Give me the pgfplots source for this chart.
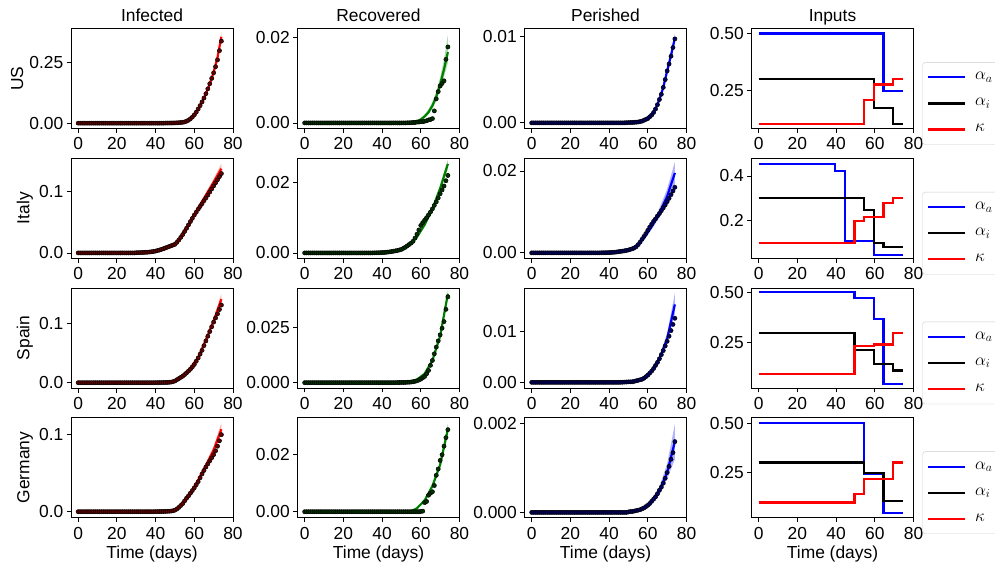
\documentclass[border=0pt]{standalone}
\usepackage{pgfplots}
\pgfplotsset{compat=1.18}
\usepackage{pgfplotstable}
\usepackage{fontspec}
\setmainfont{Liberation Sans}
\definecolor{mred}{rgb}{1,0,0}
\definecolor{mgreen}{rgb}{0,0.5,0}
\definecolor{mblue}{rgb}{0,0,1}
\newcommand{\fs}{\fontsize{17.4}{20}\selectfont}

% ---------------- observed data (fraction of population) ----------------
\pgfplotstableread[row sep=\\]{
t I R P\\
0 0 0 0\\ 1 0 0 0\\ 2 0 0 0\\ 3 0 0 0\\ 4 0 0 0\\ 5 0 0 0\\ 6 0 0 0\\ 7 0 0 0\\ 8 0 0 0\\ 9 0 0 0\\
10 0 0 0\\ 11 0 0 0\\ 12 0 0 0\\ 13 0 0 0\\ 14 0 0 0\\ 15 0 0 0\\ 16 0 0 0\\ 17 0 0 0\\ 18 0 0 0\\ 19 0 0 0\\
20 0 0 0\\ 21 0 0 0\\ 22 0 0 0\\ 23 0 0 0\\ 24 0 0 0\\ 25 0 0 0\\ 26 0 0 0\\ 27 0 0 0\\ 28 0 0 0\\ 29 0 0 0\\
30 0 0 0\\ 31 0 0 0\\ 32 0 0 0\\ 33 0 0 0\\ 34 0 0 0\\ 35 0 0 0\\ 36 0 0 0\\ 37 0 0 0\\ 38 0 0 0\\ 39 0 0 0\\
40 0 0 0\\ 41 0 0 0\\ 42 0 0 0\\ 43 0 0 0\\ 44 0 0 0\\
45 0.0003 0 0\\ 46 0.0004 0 0\\ 47 0.0005 0 0\\ 48 0.0006 0 0.00001\\ 49 0.0008 0 0.00002\\
50 0.0010 0 0.00003\\ 51 0.0013 0 0.00004\\ 52 0.0018 0 0.00005\\ 53 0.0025 0.00002 0.00006\\ 54 0.0035 0.00003 0.00008\\
55 0.0050 0.00005 0.0001\\ 56 0.0080 0.0001 0.00015\\ 57 0.0120 0.0001 0.0002\\ 58 0.0180 0.0002 0.0003\\ 59 0.0250 0.0002 0.0004\\
60 0.0340 0.0003 0.0005\\ 61 0.0450 0.0003 0.0007\\ 62 0.0580 0.0004 0.0009\\ 63 0.0720 0.0005 0.0012\\ 64 0.0870 0.0007 0.0016\\
65 0.1030 0.0008 0.0021\\ 66 0.1210 0.0010 0.0027\\ 67 0.1410 0.0028 0.0033\\ 68 0.1620 0.0056 0.0041\\ 69 0.1840 0.0073 0.0050\\
70 0.2070 0.0086 0.0060\\ 71 0.2320 0.0092 0.0068\\ 72 0.2600 0.0098 0.0077\\ 73 0.2980 0.0148 0.0087\\ 74 0.3370 0.0177 0.0097\\
}\USd

\pgfplotstableread[row sep=\\]{
t I R P\\
0 0 0 0\\ 1 0 0 0\\ 2 0 0 0\\ 3 0 0 0\\ 4 0 0 0\\ 5 0 0 0\\ 6 0 0 0\\ 7 0 0 0\\ 8 0 0 0\\ 9 0 0 0\\
10 0 0 0\\ 11 0 0 0\\ 12 0 0 0\\ 13 0 0 0\\ 14 0 0 0\\ 15 0 0 0\\ 16 0 0 0\\ 17 0 0 0\\ 18 0 0 0\\ 19 0 0 0\\
20 0 0 0\\ 21 0 0 0\\ 22 0 0 0\\ 23 0 0 0\\ 24 0 0 0\\ 25 0 0 0\\ 26 0 0 0\\ 27 0 0 0\\ 28 0 0 0\\ 29 0 0 0\\
30 0.0003 0 0\\ 31 0.0004 0 0\\ 32 0.0005 0 0\\ 33 0.0006 0 0\\ 34 0.0008 0 0\\
35 0.0010 0 0\\ 36 0.0012 0.00002 0.00002\\ 37 0.0015 0.00003 0.00003\\ 38 0.0019 0.00004 0.00004\\ 39 0.0024 0.00006 0.00005\\
40 0.0030 0.0001 0.00007\\ 41 0.0038 0.00013 0.0001\\ 42 0.0047 0.00018 0.00013\\ 43 0.0057 0.00024 0.00017\\ 44 0.0068 0.0003 0.00022\\
45 0.0080 0.0004 0.0003\\ 46 0.0092 0.0005 0.00036\\ 47 0.0104 0.0006 0.00043\\ 48 0.0116 0.0007 0.0005\\ 49 0.0128 0.00085 0.0006\\
50 0.0140 0.0010 0.0007\\ 51 0.0172 0.0013 0.00085\\ 52 0.0210 0.0016 0.0010\\ 53 0.0252 0.0020 0.0012\\ 54 0.0298 0.0024 0.0015\\
55 0.0348 0.0028 0.0020\\ 56 0.0400 0.0033 0.0026\\ 57 0.0455 0.0042 0.0033\\ 58 0.0510 0.0053 0.0040\\ 59 0.0562 0.0065 0.0047\\
60 0.0615 0.0078 0.0055\\ 61 0.0662 0.0086 0.0063\\ 62 0.0710 0.0093 0.0070\\ 63 0.0755 0.0100 0.0077\\ 64 0.0800 0.0108 0.0083\\
65 0.0848 0.0116 0.0090\\ 66 0.0893 0.0125 0.0096\\ 67 0.0940 0.0135 0.0103\\ 68 0.0990 0.0145 0.0110\\ 69 0.1040 0.0156 0.0117\\
70 0.1090 0.0168 0.0125\\ 71 0.1140 0.0179 0.0133\\ 72 0.1190 0.0190 0.0142\\ 73 0.1240 0.0205 0.0151\\ 74 0.1290 0.0220 0.0160\\
}\ITd

\pgfplotstableread[row sep=\\]{
t I R P\\
0 0 0 0\\ 1 0 0 0\\ 2 0 0 0\\ 3 0 0 0\\ 4 0 0 0\\ 5 0 0 0\\ 6 0 0 0\\ 7 0 0 0\\ 8 0 0 0\\ 9 0 0 0\\
10 0 0 0\\ 11 0 0 0\\ 12 0 0 0\\ 13 0 0 0\\ 14 0 0 0\\ 15 0 0 0\\ 16 0 0 0\\ 17 0 0 0\\ 18 0 0 0\\ 19 0 0 0\\
20 0 0 0\\ 21 0 0 0\\ 22 0 0 0\\ 23 0 0 0\\ 24 0 0 0\\ 25 0 0 0\\ 26 0 0 0\\ 27 0 0 0\\ 28 0 0 0\\ 29 0 0 0\\
30 0 0 0\\ 31 0 0 0\\ 32 0 0 0\\ 33 0 0 0\\ 34 0 0 0\\ 35 0 0 0\\ 36 0 0 0\\ 37 0 0 0\\ 38 0 0 0\\ 39 0 0 0\\
40 0.0001 0 0\\ 41 0.0001 0 0\\ 42 0.0002 0 0\\ 43 0.0002 0 0\\ 44 0.0003 0 0\\
45 0.0004 0 0\\ 46 0.0005 0 0.00002\\ 47 0.0007 0.00002 0.00003\\ 48 0.0010 0.00004 0.00005\\ 49 0.0018 0.00007 0.00007\\
50 0.0030 0.0001 0.0001\\ 51 0.0050 0.0001 0.0001\\ 52 0.0070 0.0001 0.00012\\ 53 0.0090 0.0002 0.0002\\ 54 0.0110 0.0002 0.0003\\
55 0.0138 0.0003 0.0004\\ 56 0.0167 0.0004 0.0005\\ 57 0.0198 0.0006 0.0006\\ 58 0.0230 0.0008 0.0008\\ 59 0.0268 0.0012 0.0011\\
60 0.0310 0.0016 0.0014\\ 61 0.0365 0.0022 0.0018\\ 62 0.0420 0.0028 0.0022\\ 63 0.0485 0.0040 0.0027\\ 64 0.0550 0.0055 0.0033\\
65 0.0630 0.0078 0.0039\\ 66 0.0710 0.0100 0.0046\\ 67 0.0790 0.0130 0.0054\\ 68 0.0870 0.0160 0.0062\\ 69 0.0950 0.0188 0.0071\\
70 0.1030 0.0215 0.0080\\ 71 0.1100 0.0245 0.0090\\ 72 0.1170 0.0275 0.0101\\ 73 0.1245 0.0330 0.0113\\ 74 0.1320 0.0386 0.0125\\
}\ESd

\pgfplotstableread[row sep=\\]{
t I R P\\
0 0 0 0\\ 1 0 0 0\\ 2 0 0 0\\ 3 0 0 0\\ 4 0 0 0\\ 5 0 0 0\\ 6 0 0 0\\ 7 0 0 0\\ 8 0 0 0\\ 9 0 0 0\\
10 0 0 0\\ 11 0 0 0\\ 12 0 0 0\\ 13 0 0 0\\ 14 0 0 0\\ 15 0 0 0\\ 16 0 0 0\\ 17 0 0 0\\ 18 0 0 0\\ 19 0 0 0\\
20 0 0 0\\ 21 0 0 0\\ 22 0 0 0\\ 23 0 0 0\\ 24 0 0 0\\ 25 0 0 0\\ 26 0 0 0\\ 27 0 0 0\\ 28 0 0 0\\ 29 0 0 0\\
30 0 0 0\\ 31 0 0 0\\ 32 0 0 0\\ 33 0 0 0\\ 34 0 0 0\\ 35 0 0 0\\ 36 0 0 0\\ 37 0 0 0\\ 38 0 0 0\\ 39 0 0 0\\
40 0.0001 0 0\\ 41 0.0001 0 0\\ 42 0.0002 0 0\\ 43 0.0002 0 0\\ 44 0.0003 0 0\\
45 0.0004 0 0\\ 46 0.0005 0 0\\ 47 0.0006 0 0\\ 48 0.0008 0 0\\ 49 0.0012 0 0\\
50 0.0020 0 0.00001\\ 51 0.0035 0 0.00002\\ 52 0.0055 0 0.00002\\ 53 0.0080 0 0.00003\\ 54 0.0105 0 0.00004\\
55 0.0140 0 0.00005\\ 56 0.0175 0 0.00006\\ 57 0.0205 0 0.00008\\ 58 0.0240 0 0.0001\\ 59 0.0275 0 0.00013\\
60 0.0310 0.0001 0.00016\\ 61 0.0350 0.0002 0.0002\\ 62 0.0390 0.0032 0.00025\\ 63 0.0440 0.0036 0.0003\\ 64 0.0490 0.0058 0.00035\\
65 0.0535 0.0065 0.00042\\ 66 0.0580 0.0070 0.0005\\ 67 0.0620 0.0092 0.00057\\ 68 0.0660 0.0128 0.00066\\ 69 0.0700 0.0150 0.00077\\
70 0.0740 0.0180 0.0009\\ 71 0.0790 0.0200 0.00104\\ 72 0.0850 0.0230 0.0012\\ 73 0.0920 0.0260 0.00135\\ 74 0.1000 0.0288 0.0016\\
}\DEd

% ---------------- model fits: mean, lower, upper ----------------
\pgfplotstableread[row sep=\\]{
t If Ilo Ihi Rf Rlo Rhi Pf Plo Phi\\
0 0 0 0 0 0 0 0 0 0\\
40 0.0002 0.0002 0.0003 0.00001 0.00001 0.00002 0.00001 0.00001 0.00001\\
50 0.0012 0.0011 0.0014 0.00003 0.00002 0.00005 0.00003 0.00003 0.00004\\
52 0.0020 0.0018 0.0022 0.00005 0.00003 0.00008 0.00005 0.00004 0.00006\\
54 0.0038 0.0035 0.0042 0.0001 0.00006 0.00015 0.00008 0.00007 0.00009\\
56 0.0085 0.0079 0.0092 0.0002 0.00012 0.0003 0.00015 0.00014 0.00017\\
58 0.0180 0.0170 0.0192 0.0004 0.0003 0.0006 0.0003 0.00028 0.00033\\
60 0.0340 0.0322 0.0360 0.0008 0.0006 0.0011 0.0005 0.00047 0.00055\\
62 0.0570 0.0545 0.0600 0.0015 0.0012 0.0020 0.0009 0.00085 0.00097\\
64 0.0870 0.0830 0.0910 0.0025 0.0020 0.0032 0.0016 0.0015 0.0017\\
66 0.1210 0.1160 0.1265 0.0040 0.0033 0.0049 0.0027 0.0026 0.0029\\
68 0.1620 0.1555 0.1690 0.0061 0.0051 0.0073 0.0041 0.0039 0.0043\\
70 0.2090 0.2010 0.2180 0.0090 0.0077 0.0106 0.0060 0.0057 0.0063\\
72 0.2700 0.2600 0.2810 0.0125 0.0107 0.0148 0.0078 0.0075 0.0082\\
74 0.3550 0.3430 0.3720 0.0165 0.0140 0.0205 0.0098 0.0094 0.0103\\
}\USf

\pgfplotstableread[row sep=\\]{
t If Ilo Ihi Rf Rlo Rhi Pf Plo Phi\\
0 0 0 0 0 0 0 0 0 0\\
30 0.0003 0.0003 0.0003 0.00001 0.00001 0.00001 0.00001 0.00001 0.00001\\
40 0.0025 0.0024 0.0026 0.0001 0.0001 0.0001 0.00006 0.00005 0.00007\\
45 0.0065 0.0062 0.0068 0.0004 0.00035 0.00045 0.00025 0.0002 0.0003\\
50 0.0130 0.0125 0.0136 0.0009 0.0008 0.0010 0.0006 0.0005 0.0007\\
54 0.0290 0.0280 0.0300 0.0022 0.0020 0.0024 0.0016 0.0014 0.0018\\
58 0.0510 0.0495 0.0525 0.0045 0.0042 0.0048 0.0036 0.0032 0.0040\\
62 0.0730 0.0710 0.0755 0.0080 0.0075 0.0085 0.0064 0.0057 0.0071\\
66 0.0940 0.0910 0.0975 0.0125 0.0118 0.0132 0.0097 0.0086 0.0109\\
70 0.1150 0.1110 0.1205 0.0183 0.0173 0.0193 0.0138 0.0121 0.0156\\
74 0.1370 0.1320 0.1450 0.0253 0.0238 0.0265 0.0195 0.0165 0.0222\\
}\ITf

\pgfplotstableread[row sep=\\]{
t If Ilo Ihi Rf Rlo Rhi Pf Plo Phi\\
0 0 0 0 0 0 0 0 0 0\\
40 0.0001 0.0001 0.0001 0 0 0 0 0 0\\
48 0.0008 0.0007 0.0009 0.00005 0.00004 0.00006 0.00005 0.00004 0.00006\\
50 0.0020 0.0018 0.0022 0.0001 0.00009 0.00011 0.0001 0.00009 0.00011\\
54 0.0120 0.0115 0.0125 0.0004 0.00036 0.00044 0.0003 0.00027 0.00033\\
58 0.0250 0.0240 0.0260 0.0014 0.0013 0.0015 0.0009 0.0008 0.0010\\
62 0.0430 0.0415 0.0448 0.0040 0.0037 0.0043 0.0022 0.0019 0.0025\\
66 0.0730 0.0700 0.0765 0.0100 0.0094 0.0106 0.0046 0.0040 0.0052\\
70 0.1050 0.1005 0.1105 0.0210 0.0200 0.0220 0.0085 0.0075 0.0096\\
74 0.1420 0.1350 0.1510 0.0400 0.0385 0.0415 0.0152 0.0133 0.0174\\
}\ESf

\pgfplotstableread[row sep=\\]{
t If Ilo Ihi Rf Rlo Rhi Pf Plo Phi\\
0 0 0 0 0 0 0 0 0 0\\
40 0.0001 0.0001 0.0001 0 0 0 0 0 0\\
48 0.0008 0.0007 0.0009 0.00002 0.00001 0.00003 0.000005 0.000004 0.000006\\
50 0.0020 0.0018 0.0022 0.00005 0.00004 0.00006 0.00001 0.000009 0.000012\\
54 0.0100 0.0095 0.0106 0.0001 0.00008 0.00012 0.00004 0.00003 0.00005\\
56 0.0160 0.0152 0.0169 0.0005 0.0004 0.0006 0.00006 0.00005 0.00007\\
58 0.0240 0.0228 0.0253 0.0012 0.0011 0.0013 0.0001 0.00008 0.00012\\
62 0.0410 0.0390 0.0433 0.0040 0.0037 0.0043 0.00025 0.0002 0.0003\\
66 0.0600 0.0570 0.0635 0.0090 0.0084 0.0096 0.0005 0.0004 0.00058\\
70 0.0800 0.0758 0.0850 0.0165 0.0156 0.0174 0.0009 0.00076 0.0011\\
74 0.1070 0.1010 0.1150 0.0290 0.0278 0.0310 0.0016 0.0012 0.0020\\
}\DEf

\pgfplotsset{
  every axis title shift=0pt,
  panel/.style={width=162pt,height=100pt,scale only axis,anchor=south west,
    xmin=-3.7,xmax=80,xtick={0,20,40,60,80},xticklabels={0,20,40,60,80},
    scaled x ticks=false,scaled y ticks=false,
    tick align=outside,tick pos=left,major tick length=4.5pt,
    axis line style={line width=0.8pt},
    tick style={black,line width=0.8pt},
    tick label style={inner sep=3pt},
    xticklabel style={yshift=-1.5pt},
    title style={at={(0.5,1)},anchor=base,yshift=7pt,inner sep=0pt},
    ylabel style={inner sep=3pt},
    xlabel style={inner sep=3pt},
  },
  inp/.style={panel,
    legend style={at={(1.054,0.663)},anchor=north west,draw=black!20,rounded corners=3pt,
      fill=white,inner xsep=4.5pt,inner ysep=8pt,row sep=12pt,column sep=7pt,cells={anchor=west},overlay},
    legend cell align=left,
    legend image code/.code={\draw[##1] (0pt,0pt) -- (37pt,0pt);},
  },
}

\newcommand{\fitplots}[4]{%
  \addplot[draw=none,stack plots=y,forget plot] table[x=t,y=#3lo]{#2};
  \addplot[draw=none,fill=#4!30!white,stack plots=y,forget plot] table[x=t,y expr=\thisrow{#3hi}-\thisrow{#3lo}]{#2} \closedcycle;
  \addplot[only marks,mark=*,mark size=2.1pt,mark options={fill=#4!40!black,draw=black,line width=0.5pt},forget plot] table[x=t,y=#3]{#1};
  \addplot[draw=#4,color=#4,line width=2.2pt,mark=none,forget plot] table[x=t,y=#3f]{#2};
}
\newcommand{\inleg}{%
  \addlegendimage{draw=mblue,line width=2.1pt}\addlegendentry{$\alpha_a$}
  \addlegendimage{draw=black,line width=2.1pt}\addlegendentry{$\alpha_i$}
  \addlegendimage{draw=mred,line width=2.1pt}\addlegendentry{$\kappa$}
}

\begin{document}
\fs
\begin{tikzpicture}
\path (0pt,0pt) rectangle (995pt,565pt);

% ================= Row 1 : US =================
\begin{axis}[panel,at={(71pt,436.5pt)},ymin=-0.022,ymax=0.389,ytick={0,0.25},yticklabels={0.00,0.25},title={Infected},ylabel={US}]
\fitplots{\USd}{\USf}{I}{mred}
\end{axis}
\begin{axis}[panel,at={(297.5pt,436.5pt)},ymin=-0.0013,ymax=0.022,ytick={0,0.02},yticklabels={0.00,0.02},title={Recovered}]
\fitplots{\USd}{\USf}{R}{mgreen}
\end{axis}
\begin{axis}[panel,at={(524.5pt,436.5pt)},ymin=-0.00065,ymax=0.0109,ytick={0,0.01},yticklabels={0.00,0.01},title={Perished}]
\fitplots{\USd}{\USf}{P}{mblue}
\end{axis}
\begin{axis}[inp,at={(751.5pt,436.5pt)},ymin=0.081,ymax=0.522,ytick={0.25,0.5},yticklabels={0.25,0.50},title={Inputs}]
\inleg
\addplot[draw=mblue,line width=2.1pt,forget plot] coordinates {(0,0.5) (64.5,0.5) (64.5,0.245) (74.5,0.245)};
\addplot[draw=black,line width=2.1pt,forget plot] coordinates {(0,0.3) (59.5,0.3) (59.5,0.17) (69.5,0.17) (69.5,0.10) (74.5,0.10)};
\addplot[draw=mred,line width=2.1pt,forget plot] coordinates {(0,0.1) (54.5,0.1) (54.5,0.205) (59.5,0.205) (59.5,0.275) (69.5,0.275) (69.5,0.30) (74.5,0.30)};
\end{axis}

% ================= Row 2 : Italy =================
\begin{axis}[panel,at={(71pt,306.8pt)},ymin=-0.0086,ymax=0.154,ytick={0,0.1},yticklabels={0.0,0.1},ylabel={Italy}]
\fitplots{\ITd}{\ITf}{I}{mred}
\end{axis}
\begin{axis}[panel,at={(297.5pt,306.8pt)},ymin=-0.0015,ymax=0.0269,ytick={0,0.02},yticklabels={0.00,0.02}]
\fitplots{\ITd}{\ITf}{R}{mgreen}
\end{axis}
\begin{axis}[panel,at={(524.5pt,306.8pt)},ymin=-0.0013,ymax=0.0231,ytick={0,0.02},yticklabels={0.00,0.02}]
\fitplots{\ITd}{\ITf}{P}{mblue}
\end{axis}
\begin{axis}[inp,at={(751.5pt,306.8pt)},ymin=0.034,ymax=0.479,ytick={0.2,0.4},yticklabels={0.2,0.4}]
\inleg
\addplot[draw=mblue,line width=2.1pt,forget plot] coordinates {(0,0.455) (39.5,0.455) (39.5,0.424) (44.5,0.424) (44.5,0.11) (59.5,0.11) (59.5,0.05) (74.5,0.05)};
\addplot[draw=black,line width=2.1pt,forget plot] coordinates {(0,0.3) (54.5,0.3) (54.5,0.25) (59.5,0.25) (59.5,0.10) (64.5,0.10) (64.5,0.082) (74.5,0.082)};
\addplot[draw=mred,line width=2.1pt,forget plot] coordinates {(0,0.1) (49.5,0.1) (49.5,0.199) (54.5,0.199) (54.5,0.216) (64.5,0.216) (64.5,0.28) (69.5,0.28) (69.5,0.30) (74.5,0.30)};
\end{axis}

% ================= Row 3 : Spain =================
\begin{axis}[panel,at={(71pt,177pt)},ymin=-0.009,ymax=0.161,ytick={0,0.1},yticklabels={0.0,0.1},ylabel={Spain}]
\fitplots{\ESd}{\ESf}{I}{mred}
\end{axis}
\begin{axis}[panel,at={(297.5pt,177pt)},ymin=-0.0024,ymax=0.0426,ytick={0,0.025},yticklabels={0.000,0.025}]
\fitplots{\ESd}{\ESf}{R}{mgreen}
\end{axis}
\begin{axis}[panel,at={(524.5pt,177pt)},ymin=-0.0011,ymax=0.0184,ytick={0,0.01},yticklabels={0.00,0.01}]
\fitplots{\ESd}{\ESf}{P}{mblue}
\end{axis}
\begin{axis}[inp,at={(751.5pt,177pt)},ymin=0.0265,ymax=0.5215,ytick={0.25,0.5},yticklabels={0.25,0.50}]
\inleg
\addplot[draw=mblue,line width=2.1pt,forget plot] coordinates {(0,0.5) (49.5,0.5) (49.5,0.4715) (59.5,0.4715) (59.5,0.366) (64.5,0.366) (64.5,0.046) (74.5,0.046)};
\addplot[draw=black,line width=2.1pt,forget plot] coordinates {(0,0.3) (49.5,0.3) (49.5,0.213) (59.5,0.213) (59.5,0.145) (69.5,0.145) (69.5,0.113) (74.5,0.113)};
\addplot[draw=mred,line width=2.1pt,forget plot] coordinates {(0,0.097) (49.5,0.097) (49.5,0.235) (59.5,0.235) (59.5,0.242) (69.5,0.242) (69.5,0.30) (74.5,0.30)};
\end{axis}

% ================= Row 4 : Germany =================
\begin{axis}[panel,at={(71pt,47.3pt)},ymin=-0.0078,ymax=0.122,ytick={0,0.1},yticklabels={0.0,0.1},ylabel={Germany},xlabel={Time (days)}]
\fitplots{\DEd}{\DEf}{I}{mred}
\end{axis}
\begin{axis}[panel,at={(297.5pt,47.3pt)},ymin=-0.0021,ymax=0.033,ytick={0,0.02},yticklabels={0.00,0.02},xlabel={Time (days)}]
\fitplots{\DEd}{\DEf}{R}{mgreen}
\end{axis}
\begin{axis}[panel,at={(524.5pt,47.3pt)},ymin=-0.00012,ymax=0.00214,ytick={0,0.002},yticklabels={0.000,0.002},xlabel={Time (days)}]
\fitplots{\DEd}{\DEf}{P}{mblue}
\end{axis}
\begin{axis}[inp,at={(751.5pt,47.3pt)},ymin=0.02,ymax=0.527,ytick={0.25,0.5},yticklabels={0.25,0.50},xlabel={Time (days)}]
\inleg
\addplot[draw=mblue,line width=2.1pt,forget plot] coordinates {(0,0.5) (54.5,0.5) (54.5,0.243) (64.5,0.243) (64.5,0.045) (74.5,0.045)};
\addplot[draw=black,line width=2.1pt,forget plot] coordinates {(0,0.3) (54.5,0.3) (54.5,0.245) (64.5,0.245) (64.5,0.105) (74.5,0.105)};
\addplot[draw=mred,line width=2.1pt,forget plot] coordinates {(0,0.097) (49.5,0.097) (49.5,0.14) (54.5,0.14) (54.5,0.217) (69.5,0.217) (69.5,0.30) (74.5,0.30)};
\end{axis}
\end{tikzpicture}
\end{document}
